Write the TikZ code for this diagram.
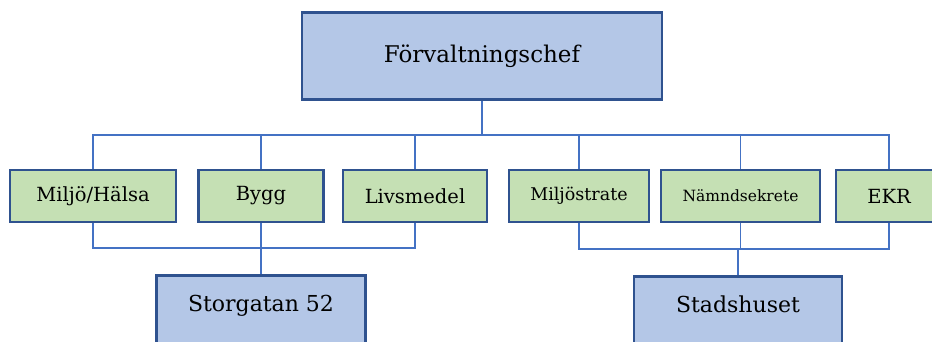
\documentclass[tikz,border=0pt]{standalone}
\usepackage{fontspec}
\setmainfont{DejaVu Serif}
\usetikzlibrary{calc, positioning}
\definecolor{headblue}{HTML}{B4C7E7}
\definecolor{unitgreen}{HTML}{C5E0B4}
\definecolor{edgeblue}{HTML}{2F528F}
\definecolor{linkblue}{HTML}{4472C4}

\begin{document}
\begin{tikzpicture}[x=1pt, y=-1pt,
  headbox/.style={shape=rectangle, draw=edgeblue, line width=2.8pt, fill=headblue, inner sep=0pt},
  unitbox/.style={shape=rectangle, draw=edgeblue, line width=2.8pt, fill=unitgreen, inner sep=0pt, minimum height=52pt, font=\fontsize{19.5}{22}\selectfont},
  link/.style={draw=linkblue, line width=1.4pt}]
\useasboundingbox (0,0) rectangle (932,342);
\clip (0,0) rectangle (932,342);
\node[headbox, minimum width=360pt, minimum height=87pt, font=\fontsize{23}{27}\selectfont] (chef) at (482,56) {Förvaltningschef};
%units
\node[unitbox, minimum width=166pt] (mh) at (93,196) {Miljö/Hälsa};
\node[unitbox, minimum width=125pt] (bygg) at (261,196) {Bygg};
\node[unitbox, minimum width=144pt] (liv) at (415,196) {Livsmedel};
\node[unitbox, minimum width=140pt, font=\fontsize{17.5}{20}\selectfont] (mst) at (579,196) {Miljöstrate};
\node[unitbox, minimum width=159pt, font=\fontsize{15.5}{18}\selectfont] (nmd) at (740.5,196) {Nämndsekrete};
\node[unitbox, minimum width=106pt] (ekr) at (889,196) {EKR};
%sites
\node[headbox, anchor=north, minimum width=209pt, text height=36pt, text depth=60pt, font=\fontsize{22}{26}\selectfont] (stor) at (261,274) {Storgatan 52};
\node[headbox, anchor=north, minimum width=208pt, text height=36pt, text depth=60pt, font=\fontsize{22}{26}\selectfont] (stad) at (738,275) {Stadshuset};
%%
\coordinate (bus) at (0,135); \coordinate (lbus) at (0,248); \coordinate (rbus) at (0,249);
\draw[link] (chef.south) -- (chef.south |- bus);
\draw[link] (mh.north) -- (mh.north |- bus) -| (ekr.north);
\draw[link] (bygg.north) -- (bygg.north |- bus); \draw[link] (liv.north) -- (liv.north |- bus);
\draw[link] (mst.north) -- (mst.north |- bus); \draw[link] (nmd.north) -- (nmd.north |- bus);
\draw[link] (mh.south) -- (mh.south |- lbus) -| (liv.south); \draw[link] (bygg.south) -- (stor.north);
\draw[link] (mst.south) -- (mst.south |- rbus) -| (ekr.south);
\draw[link] (nmd.south) -- (nmd.south |- rbus); \draw[link] (stad.north |- rbus) -- (stad.north);
\end{tikzpicture}
\end{document}
